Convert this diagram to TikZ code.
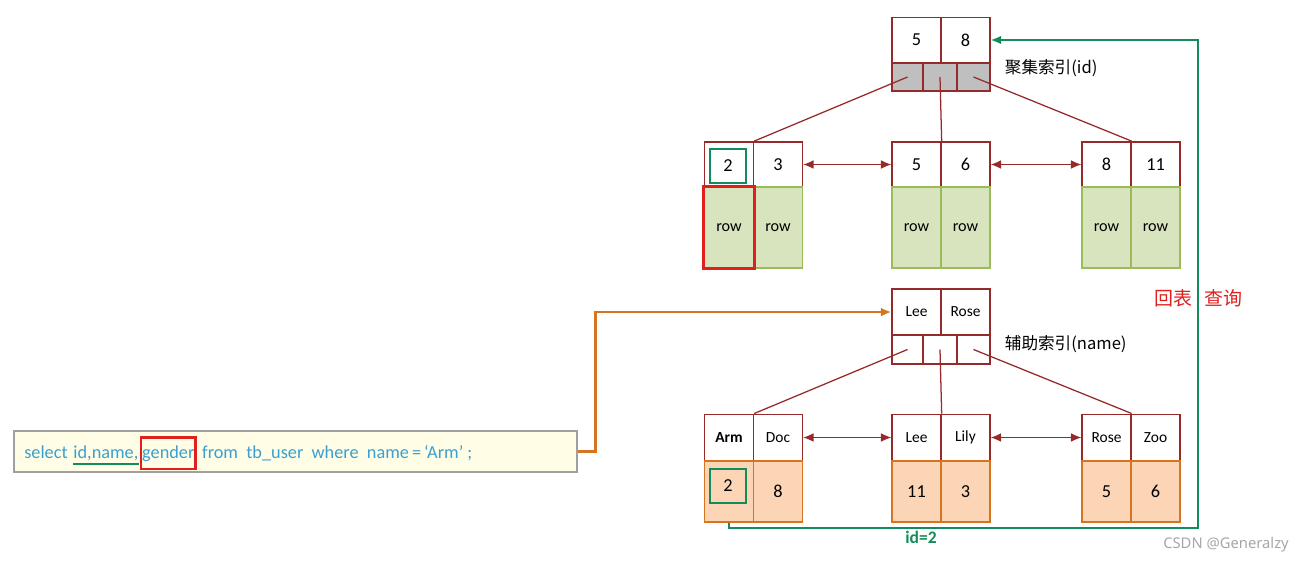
\documentclass[tikz,border=0pt]{standalone}
\usepackage{fontspec}
\usepackage{tikz}
\setmainfont{Carlito}
\newfontfamily\cjk{Noto Sans CJK SC}
\newfontfamily\wmfont{Noto Sans}
\usetikzlibrary{arrows.meta,positioning}

\definecolor{brd}{RGB}{150,42,42}
\definecolor{grnfill}{RGB}{215,228,189}
\definecolor{grnbrd}{RGB}{155,187,89}
\definecolor{orgfill}{RGB}{251,213,181}
\definecolor{orgbrd}{RGB}{214,116,32}
\definecolor{ptrgray}{RGB}{191,191,191}
\definecolor{backgreen}{RGB}{18,140,90}
\definecolor{hitred}{RGB}{224,32,28}
\definecolor{sqlfill}{RGB}{255,253,229}
\definecolor{sqlbrd}{RGB}{160,160,160}
\definecolor{sqlblue}{RGB}{56,160,210}

\begin{document}
\begin{tikzpicture}[x=0.25mm, y=-0.25mm,
    key/.style={draw=brd, line width=1.1pt, fill=white, inner sep=0pt,
        minimum width=12.2mm, minimum height=11.3mm, font=\fontsize{13}{15}\selectfont},
    namekey/.style={key, minimum height=11.6mm, font=\fontsize{11}{13}\selectfont},
    ptr/.style={draw=brd, line width=1.1pt, inner sep=0pt, minimum height=7mm},
    rowcell/.style={draw=grnbrd, line width=1.1pt, fill=grnfill, inner sep=0pt,
        minimum width=12.2mm, minimum height=20.2mm, font=\fontsize{11.5}{13}\selectfont},
    valcell/.style={draw=orgbrd, line width=1.1pt, fill=orgfill, inner sep=0pt,
        minimum width=12.2mm, minimum height=15.2mm, font=\fontsize{13}{15}\selectfont},
    gbox/.style={draw=backgreen, line width=1.6pt, inner sep=0pt,
        minimum width=9mm, minimum height=8.5mm, font=\fontsize{13}{15}\selectfont},
    link/.style={draw=brd, line width=0.9pt},
    nbr/.style={link, {Latex[length=2.6mm,width=2.2mm]}-{Latex[length=2.6mm,width=2.2mm]}},
    sqltxt/.style={inner sep=0pt, text=sqlblue, font=\fontsize{13}{15}\selectfont}
  ]
  \useasboundingbox (0,0) rectangle (1300,562);

  % Clustered index: root
  \node[key] (ck1) at (916.5,40) {5};
  \node[key] (ck2) at (965.5,40) {8};
  \node[ptr, fill=ptrgray, minimum width=7.75mm] (cp1) at (907.5,77) {};
  \node[ptr, fill=ptrgray, minimum width=8.5mm] (cp2) at (940,77) {};
  \node[ptr, fill=ptrgray, minimum width=8.25mm] (cp3) at (973.5,77) {};
  \node[anchor=west, font=\cjk\fontsize{11.8}{14}\selectfont] (clab) at (1000,68) {聚集索引(id)};

  % Clustered index: leaves
  \node[key] (lk1) at (729,164.5) {};
  \node[key] (lk2) at (778,164.5) {3};
  \node[rowcell] (lr2) at (778,227.5) {row};
  \node[rowcell] (lr1) at (729,227.5) {row};
  \node[key] (mk1) at (916.5,164.5) {5};
  \node[key] (mk2) at (965.5,164.5) {6};
  \node[rowcell] (mr1) at (916.5,227.5) {row};
  \node[rowcell] (mr2) at (965.5,227.5) {row};
  \node[key] (rk1) at (1106.5,164.5) {8};
  \node[key] (rk2) at (1155.5,164.5) {11};
  \node[rowcell] (rr1) at (1106.5,227.5) {row};
  \node[rowcell] (rr2) at (1155.5,227.5) {row};
  \node[gbox] (hitkey) at (728,166) {2};
  \draw[hitred, line width=1.9pt] (lr1.north west) rectangle (lr1.south east);

  \draw[link] (cp1.center) -- (lk1.north east);
  \draw[link] (cp2.center) -- (mk1.north east);
  \draw[link] (cp3.center) -- (rk1.north east);
  \draw[nbr] (lk2.east) -- (mk1.west);
  \draw[nbr] (mk2.east) -- (rk1.west);

  % Secondary index: root
  \node[namekey] (sk1) at (916.5,312) {Lee};
  \node[namekey] (sk2) at (965.5,312) {Rose};
  \node[ptr, fill=white, minimum width=7.75mm, minimum height=7.25mm] (sp1) at (907.5,349.5) {};
  \node[ptr, fill=white, minimum width=8.5mm, minimum height=7.25mm] (sp2) at (940,349.5) {};
  \node[ptr, fill=white, minimum width=8.25mm, minimum height=7.25mm] (sp3) at (973.5,349.5) {};
  \node[anchor=west, font=\cjk\fontsize{11.8}{14}\selectfont] (slab) at (1000,344) {辅助索引(name)};

  % Secondary index: leaves
  \node[namekey, font=\bfseries\fontsize{11}{13}\selectfont] (ak1) at (729,437.5) {Arm};
  \node[namekey] (ak2) at (778,437.5) {Doc};
  \node[valcell] (av1) at (729,491.5) {};
  \node[valcell] (av2) at (778,491.5) {8};
  \node[namekey] (bk1) at (916.5,437.5) {Lee};
  \node[namekey] (bk2) at (965.5,437.5) {Lily};
  \node[valcell] (bv1) at (916.5,491.5) {11};
  \node[valcell] (bv2) at (965.5,491.5) {3};
  \node[namekey] (ck3) at (1106.5,437.5) {Rose};
  \node[namekey] (ck4) at (1155.5,437.5) {Zoo};
  \node[valcell] (cv1) at (1106.5,491.5) {5};
  \node[valcell] (cv2) at (1155.5,491.5) {6};
  \node[gbox] (hitid) at (728,486) {2};

  \draw[link] (sp1.center) -- (ak1.north east);
  \draw[link] (sp2.center) -- (bk1.north east);
  \draw[link] (sp3.center) -- (ck3.north east);
  \draw[nbr] (ak2.east) -- (bk1.west);
  \draw[nbr] (bk2.east) -- (ck3.west);

  % SQL statement
  \node[draw=sqlbrd, line width=0.9pt, fill=sqlfill, minimum width=140.75mm,
        minimum height=10.25mm, inner sep=0pt] (sql) at (295.5,451.5) {};
  \node[sqltxt, anchor=base west] (w1) at (24,458) {select};
  \node[sqltxt, base right=1.3mm of w1] (w2) {id,name,};
  \node[sqltxt, base right=0.3mm of w2, draw=hitred, line width=1.7pt,
        inner xsep=0.8pt, minimum height=7.8mm] (w3) {gender};
  \node[sqltxt, base right=1.3mm of w3] (w4) {from\ \ tb\_user\ \ where\ \ name\,=\,‘Arm’\ ;};
  \draw[backgreen, line width=1.4pt] ([yshift=-2.2pt]w2.south west) -- ([yshift=-2.2pt]w2.south east);

  % Lookup paths
  \draw[orgbrd, line width=1.7pt, -{Latex[length=2.6mm,width=2.2mm]}]
    (sql.east) -- ++(18,0) |- (sk1.west);
  \coordinate (turn) at (1198,528);
  \draw[backgreen, line width=1.7pt, -{Latex[length=2.6mm,width=2.2mm]}]
    (av1.south) |- (turn) |- (ck2.east);
  \node[backgreen, font=\bfseries\fontsize{12.5}{14}\selectfont] (idlab) at (921,537) {id=2};
  \node[hitred, anchor=east, font=\cjk\fontsize{13.5}{15}\selectfont] (back1) at (1197,298) {回表};
  \node[hitred, anchor=west, font=\cjk\fontsize{13.5}{15}\selectfont] (back2) at (1200,298) {查询};

  % Watermark
  \node[gray!70, font=\wmfont\fontsize{10.5}{12}\selectfont] (wm) at (1226,545) {CSDN @Generalzy};
\end{tikzpicture}
\end{document}
